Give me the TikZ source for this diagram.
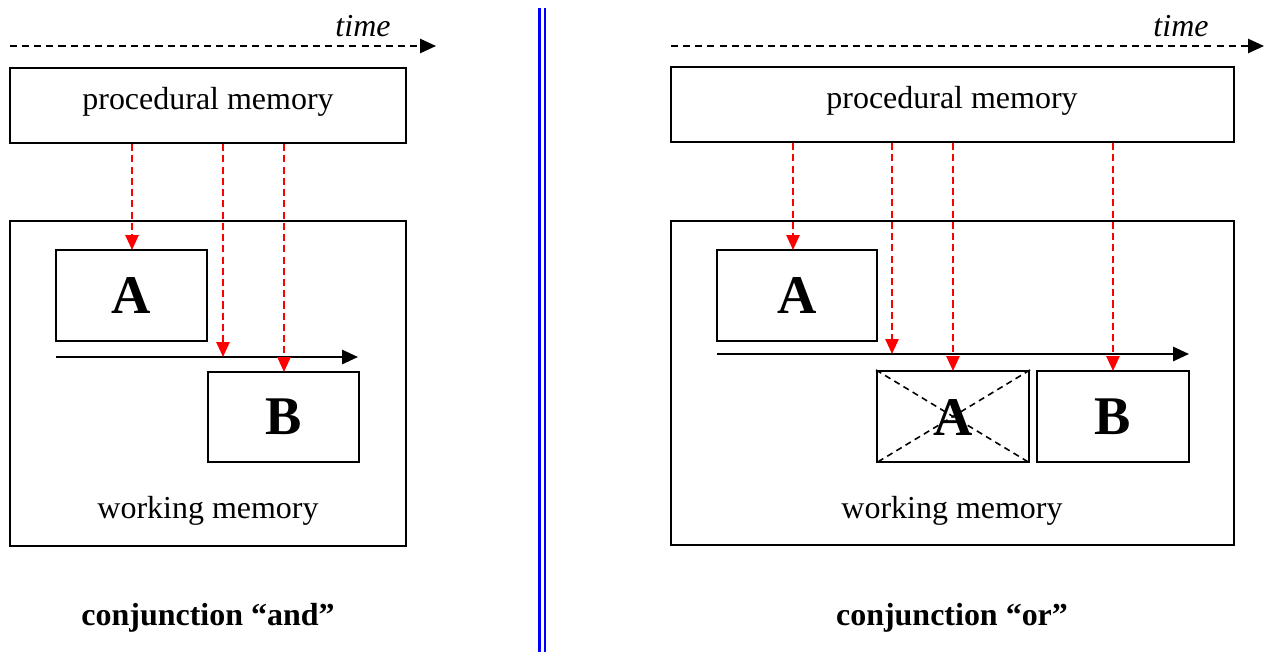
\documentclass[tikz,border=0pt]{standalone}
\usepackage{fontspec}
\setmainfont{Liberation Serif}
\usetikzlibrary{arrows.meta,fit}
\tikzset{
  box/.style={draw=black, line width=1.2pt, inner sep=0pt, fill=none},
  lab/.style={inner sep=0pt, anchor=base, font=\fontsize{18.2}{22}\selectfont},
  big/.style={inner sep=0pt, font=\fontsize{31}{36}\selectfont\bfseries},
  title/.style={inner sep=0pt, anchor=base, font=\fontsize{18.2}{22}\selectfont\bfseries},
  timearr/.style={dash pattern=on 4pt off 2.9pt, line width=1.1pt, -{Triangle[length=9pt,width=8pt]}},
  redarr/.style={red, dash pattern=on 4pt off 2.4pt, line width=1.1pt, -{Triangle[length=8.5pt,width=7.5pt]}},
  flow/.style={line width=1.3pt, -{Triangle[length=9pt,width=8pt]}},
  crossln/.style={dash pattern=on 3.5pt off 2.6pt, line width=0.9pt},
  divider/.style={blue, line width=1.6pt}
}
\begin{document}
\begin{tikzpicture}[x=0.02cm,y=-0.02cm]
\useasboundingbox (0,0) rectangle (1270,652);

% ---------- left panel ----------
\coordinate (tL0) at (10,46);
\coordinate (tL1) at (436,46);
\draw[timearr] (tL0) -- (tL1);
\node[lab, font=\fontsize{18.2}{22}\selectfont\itshape] (timeL) at (363,37) {time};

\node[box, fit={(10,68) (406,143)}] (pmL) {};
\node[lab] (pmLt) at (208,110) {procedural memory};

\node[box, fit={(10,221) (406,546)}] (wmL) {};
\node[lab] (wmLt) at (208,518) {working memory};

\node[box, fit={(56,250) (207,341)}] (aL) {};
\node[big] (aLt) at (aL.center) {A};
\node[box, fit={(208,372) (359,462)}] (bL) {};
\node[big] (bLt) at (bL.center) {B};

\coordinate (fL0) at (56,357);
\coordinate (fL1) at (358,357);
\draw[flow] (fL0) -- (fL1);

\coordinate (rL1) at (132,250);
\coordinate (rL2) at (223,357);
\coordinate (rL3) at (284,372);
\draw[redarr] (pmL.south -| rL1) -- (rL1);
\draw[redarr] (pmL.south -| rL2) -- (rL2);
\draw[redarr] (pmL.south -| rL3) -- (rL3);

\node[title] (cL) at (208,625) {conjunction “and”};

% ---------- divider ----------
\coordinate (d1a) at (539.5,8);
\coordinate (d1b) at (539.5,652);
\coordinate (d2a) at (545,8);
\coordinate (d2b) at (545,652);
\draw[divider] (d1a) -- (d1b);
\draw[divider] (d2a) -- (d2b);

% ---------- right panel ----------
\coordinate (tR0) at (671,46);
\coordinate (tR1) at (1264,46);
\draw[timearr] (tR0) -- (tR1);
\node[lab, font=\fontsize{18.2}{22}\selectfont\itshape] (timeR) at (1181,37) {time};

\node[box, fit={(671,67) (1234,142)}] (pmR) {};
\node[lab] (pmRt) at (952,109) {procedural memory};

\node[box, fit={(671,221) (1234,545)}] (wmR) {};
\node[lab] (wmRt) at (952,518) {working memory};

\node[box, fit={(717,250) (877,341)}] (aR) {};
\node[big] (aRt) at (aR.center) {A};
\node[box, fit={(877,371) (1029,462)}] (xR) {};
\node[big] (xRt) at (953,418) {A};
\draw[crossln] (xR.north west) -- (xR.south east);
\draw[crossln] (xR.north east) -- (xR.south west);
\node[box, fit={(1037,371) (1189,462)}] (bR) {};
\node[big] (bRt) at (bR.center) {B};

\coordinate (fR0) at (717,354);
\coordinate (fR1) at (1189,354);
\draw[flow] (fR0) -- (fR1);

\coordinate (rR1) at (793,250);
\coordinate (rR2) at (892,354);
\coordinate (rR3) at (953,371);
\coordinate (rR4) at (1113,371);
\draw[redarr] (pmR.south -| rR1) -- (rR1);
\draw[redarr] (pmR.south -| rR2) -- (rR2);
\draw[redarr] (pmR.south -| rR3) -- (rR3);
\draw[redarr] (pmR.south -| rR4) -- (rR4);

\node[title] (cR) at (952,625) {conjunction “or”};
\end{tikzpicture}
\end{document}
